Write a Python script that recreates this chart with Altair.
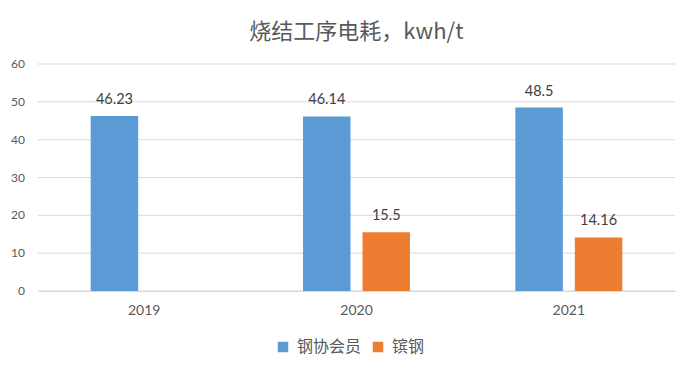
import altair as alt
import pandas as pd

years = ["2019", "2020", "2021"]
series = ["钢协会员", "镔钢"]
member_vals = [46.23, 46.14, 48.5]
bin_vals = [None, 15.5, 14.16]
y_ticks = [0, 10, 20, 30, 40, 50, 60]
colors = ["#5B9BD5", "#ED7D31"]

rows = []
for y, v in zip(years, member_vals):
    rows.append({"year": y, "series": series[0], "value": v, "label": f"{v:g}"})
for y, v in zip(years, bin_vals):
    if v is not None:
        rows.append({"year": y, "series": series[1], "value": v, "label": f"{v:g}"})
df = pd.DataFrame(rows)
tick_df = pd.DataFrame({"tick": y_ticks, "tlabel": [str(t) for t in y_ticks]})

W, H = 637, 227
yscale = alt.Scale(domain=[0, 60], nice=False)

x_enc = alt.X("year:N", sort=years,
              scale=alt.Scale(paddingInner=0, paddingOuter=0),
              axis=alt.Axis(title=None, labelAngle=0, domain=True, domainColor="#d9d9d9",
                            ticks=False, labelFont="Lato", labelFontSize=14,
                            labelColor="#595959", labelPadding=12, grid=False))
xoff = alt.XOffset("series:N", sort=series,
                   scale=alt.Scale(domain=series, paddingInner=0.2017, paddingOuter=0.886))

grid = alt.Chart(tick_df).mark_rule(color="#d9d9d9", strokeWidth=1).encode(
    y=alt.Y("tick:Q", scale=yscale, axis=None),
    x=alt.value(0), x2=alt.value(W),
)
ylabels = alt.Chart(tick_df).mark_text(align="right", baseline="middle", font="Lato",
                                       fontSize=12, color="#595959").encode(
    y=alt.Y("tick:Q", scale=yscale, axis=None),
    x=alt.value(-13),
    text="tlabel:N",
)

bars = alt.Chart(df).mark_bar().encode(
    x=x_enc,
    xOffset=xoff,
    y=alt.Y("value:Q", scale=yscale, axis=None),
    color=alt.Color("series:N", sort=series,
                    scale=alt.Scale(domain=series, range=colors),
                    legend=alt.Legend(title=None, orient="none", direction="horizontal",
                                      legendX=237, legendY=275, symbolType="square",
                                      symbolSize=110, symbolStrokeWidth=0,
                                      labelFont="Noto Sans CJK SC", labelFontSize=16,
                                      labelColor="#595959", columnPadding=8,
                                      labelOffset=6)),
)

labels = alt.Chart(df).mark_text(baseline="bottom", dy=-9, font="Lato", fontSize=14.5,
                                 color="#404040").encode(
    x=alt.X("year:N", sort=years),
    xOffset=xoff,
    y=alt.Y("value:Q", scale=yscale, axis=None),
    text="label:N",
)

chart = (grid + ylabels + bars + labels).properties(
    width=W,
    height=H,
    title=alt.Title("烧结工序电耗，kwh/t", font="Noto Sans CJK SC", fontSize=22,
                    fontWeight="normal", color="#595959", anchor="middle", offset=14),
    autosize=alt.AutoSizeParams(type="none"),
    padding={"left": 38, "top": 64, "right": 18, "bottom": 85},
).configure_view(stroke=None)

chart.save("out.html", embed_options={"renderer": "svg", "actions": False})
